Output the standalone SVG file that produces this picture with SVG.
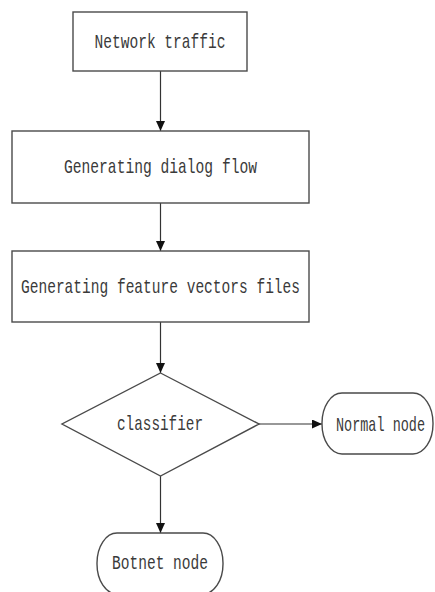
<svg xmlns="http://www.w3.org/2000/svg" width="435" height="592" viewBox="0 0 435 592">
  <defs>
    <marker id="arrow" markerUnits="userSpaceOnUse" markerWidth="10" markerHeight="10" refX="10" refY="4.5" orient="auto">
      <path d="M0,0 L10,4.5 L0,9 z" fill="#111"/>
    </marker>
    <style>
      .shape { fill: #fff; stroke: #4a4a4a; stroke-width: 1.4; }
      .link { fill: none; stroke: #333; stroke-width: 1.2; marker-end: url(#arrow); }
      .label { font-family: "Liberation Mono", "DejaVu Sans Mono", monospace; font-size: 21px; fill: #3a3a3a; text-anchor: middle; }
    </style>
  </defs>
  <rect width="435" height="592" fill="#fff"/>

  <g id="connectors">
    <line class="link" x1="160.5" y1="71" x2="160.5" y2="131"/>
    <line class="link" x1="160.5" y1="203" x2="160.5" y2="251"/>
    <line class="link" x1="160.5" y1="322" x2="160.5" y2="373"/>
    <line class="link" x1="259" y1="424" x2="322" y2="424"/>
    <line class="link" x1="160.5" y1="476" x2="160.5" y2="533"/>
  </g>

  <g id="network-traffic">
    <rect class="shape" x="73" y="12" width="174" height="59"/>
    <text class="label" x="160" y="48" textLength="131" lengthAdjust="spacingAndGlyphs">Network traffic</text>
  </g>

  <g id="dialog-flow">
    <rect class="shape" x="12" y="131" width="297" height="72"/>
    <text class="label" x="160.5" y="173" textLength="193" lengthAdjust="spacingAndGlyphs">Generating dialog flow</text>
  </g>

  <g id="feature-vectors">
    <rect class="shape" x="12" y="251" width="297" height="71"/>
    <text class="label" x="160.5" y="293" textLength="279" lengthAdjust="spacingAndGlyphs">Generating feature vectors files</text>
  </g>

  <g id="classifier">
    <polygon class="shape" points="160.5,373 259,424 160.5,476 62,424"/>
    <text class="label" x="160" y="430" textLength="86" lengthAdjust="spacingAndGlyphs">classifier</text>
  </g>

  <g id="normal-node">
    <rect class="shape" x="322" y="393" width="111" height="61" rx="20" ry="30"/>
    <text class="label" x="380.5" y="431" textLength="89" lengthAdjust="spacingAndGlyphs">Normal node</text>
  </g>

  <g id="botnet-node">
    <rect class="shape" x="97" y="533" width="126" height="61" rx="20" ry="30"/>
    <text class="label" x="160" y="569" textLength="96" lengthAdjust="spacingAndGlyphs">Botnet node</text>
  </g>
</svg>
